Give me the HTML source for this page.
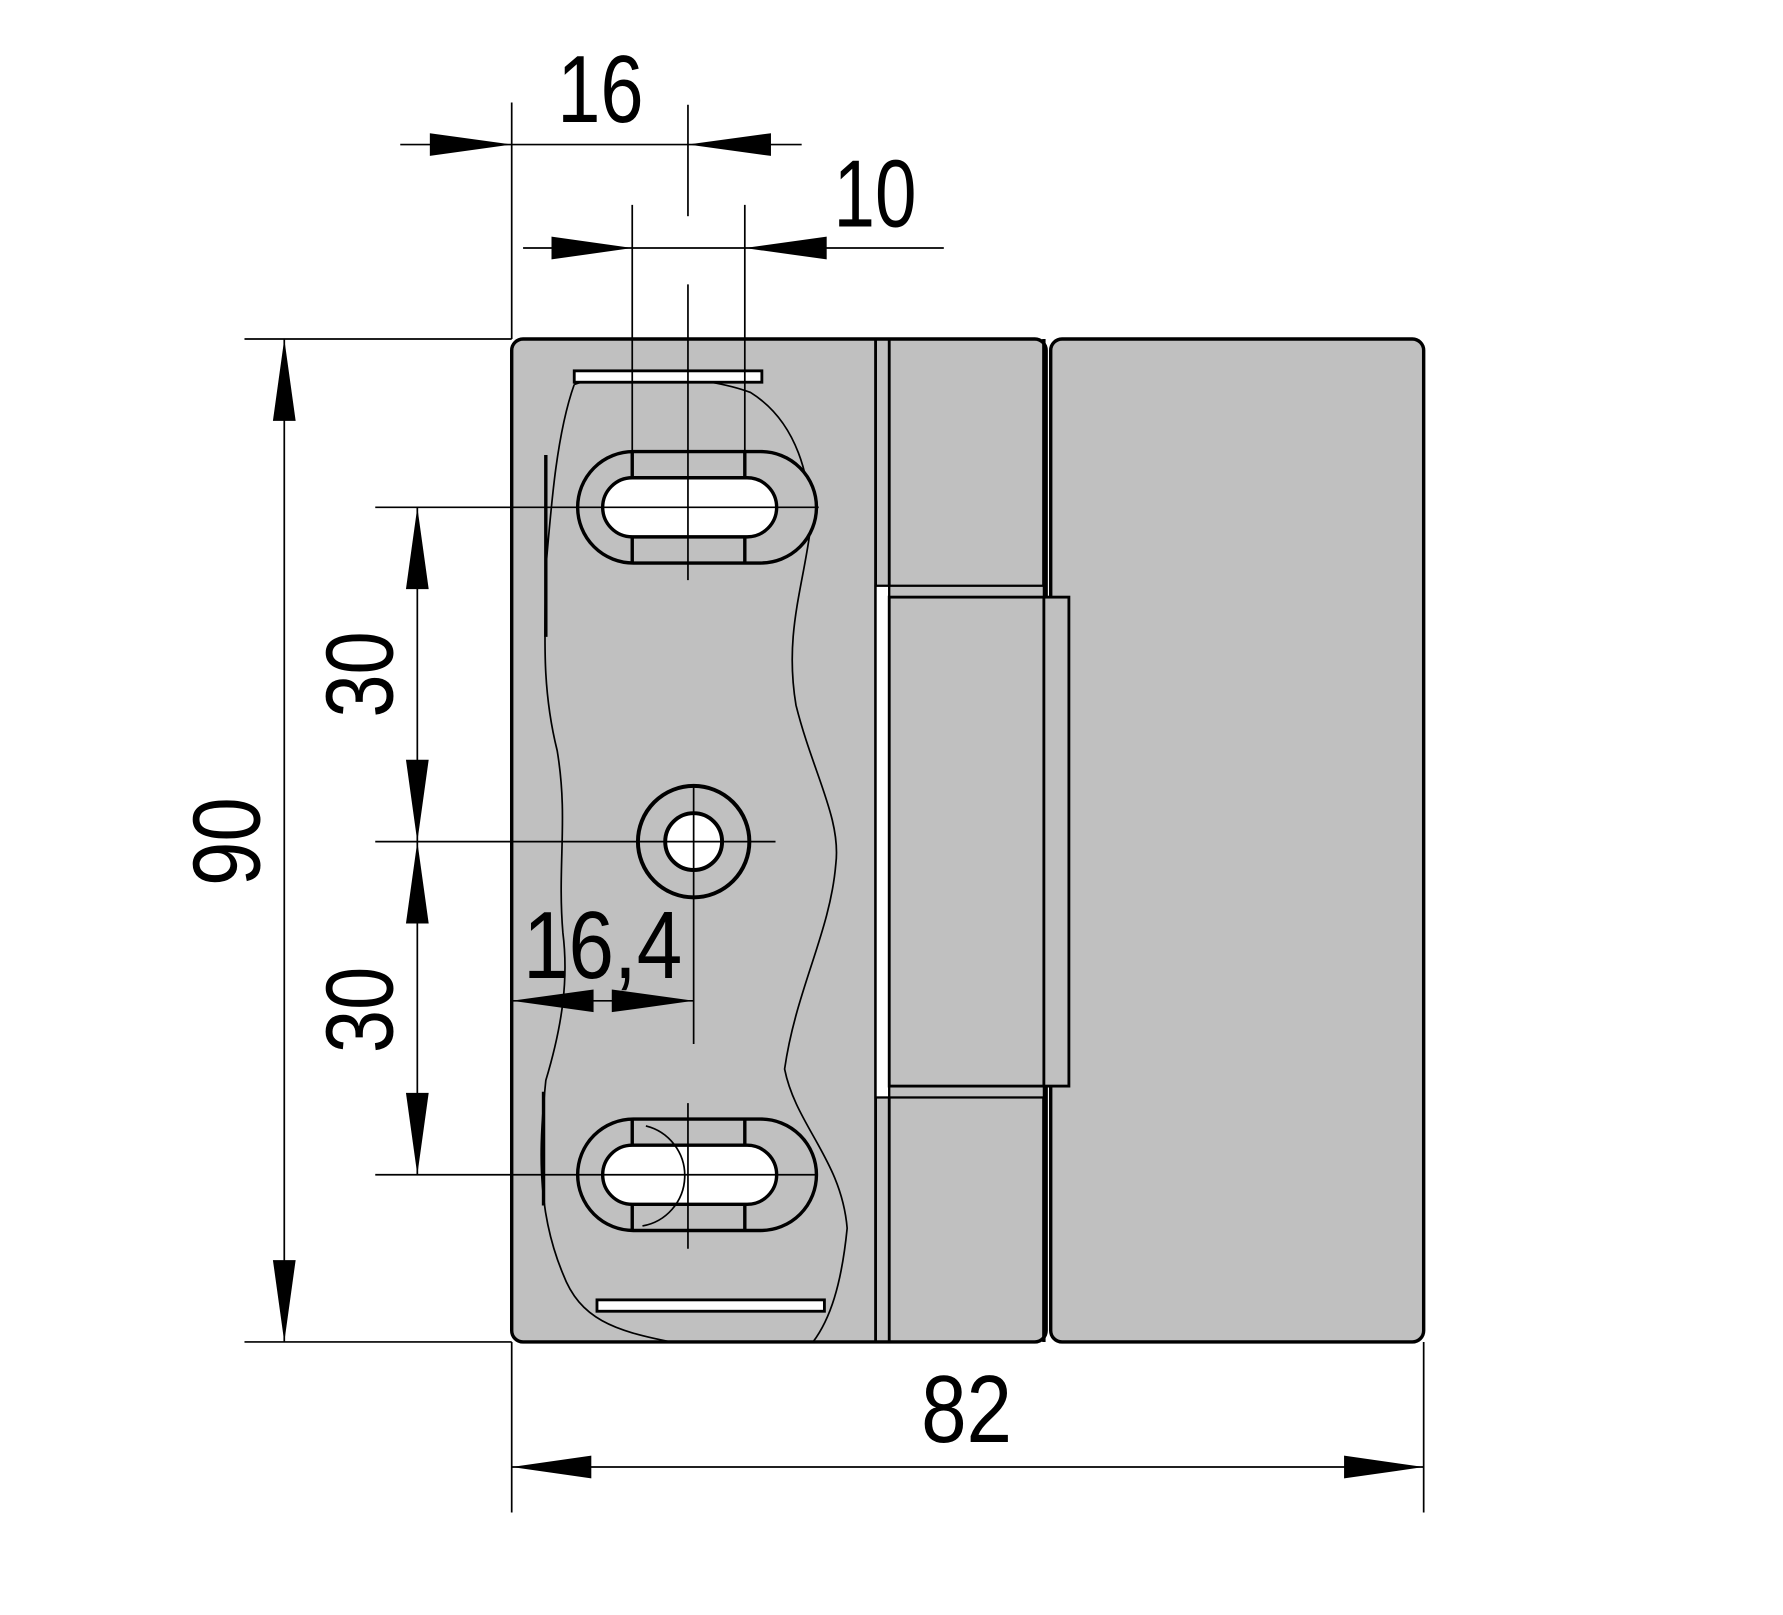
<!DOCTYPE html>
<html><head><style>html,body{margin:0;padding:0;background:#fff}svg{display:block}</style></head>
<body>
<svg width="1783" height="1615" viewBox="0 0 1568 1420" xmlns="http://www.w3.org/2000/svg">
<rect width="1568" height="1420" fill="#fff"/>
<g stroke="#000" fill="none">
<rect x="450" y="298" width="470" height="882" rx="10" fill="#c0c0c0" stroke-width="3"/>
<rect x="924" y="298" width="328" height="882" rx="10" fill="#c0c0c0" stroke-width="3"/>
<line x1="770" y1="298" x2="770" y2="1180" stroke-width="2.5"/>
<line x1="782" y1="298" x2="782" y2="1180" stroke-width="2.5"/>
<line x1="918" y1="298" x2="918" y2="1180" stroke-width="3"/>
<rect x="770" y="515" width="12" height="450" fill="#fff" stroke-width="2"/>
<rect x="782" y="515" width="136" height="450" fill="#c0c0c0" stroke-width="2"/>
<rect x="782" y="525" width="158" height="430" fill="#c0c0c0" stroke-width="2.5"/>
<line x1="918" y1="525" x2="918" y2="955" stroke-width="2.5"/>
<path d="M505 338 C540 325 620 330 660 345 C700 370 715 420 712 470 C705 520 690 560 700 620 C715 680 740 720 735 760 C730 820 700 870 690 940 C700 990 740 1020 745 1080 C740 1130 730 1160 715 1180 M590 1180 C540 1170 510 1160 495 1120 C470 1060 475 1000 480 950 C495 900 500 860 495 820 C490 760 500 720 490 660 C475 600 480 550 480 500 C485 440 490 380 505 338" stroke-width="1.5"/>
<path d="M480 400 L480 560 M478 960 L478 1060" stroke-width="3"/>
<rect x="505" y="326" width="165" height="10" fill="#fff" stroke-width="2.5"/>
<rect x="525" y="1143" width="200" height="10" fill="#fff" stroke-width="2.5"/>
<g stroke-width="3">
<rect x="508" y="397" width="210" height="98" rx="49" fill="#c0c0c0"/>
<rect x="530" y="420" width="153" height="52" rx="26" fill="#fff"/>
<line x1="556" y1="397" x2="556" y2="420"/><line x1="655" y1="397" x2="655" y2="420"/>
<line x1="556" y1="472" x2="556" y2="495"/><line x1="655" y1="472" x2="655" y2="495"/>
<rect x="508" y="984" width="210" height="98" rx="49" fill="#c0c0c0"/>
<rect x="530" y="1007" width="153" height="52" rx="26" fill="#fff"/>
<line x1="556" y1="984" x2="556" y2="1007"/><line x1="655" y1="984" x2="655" y2="1007"/>
<line x1="556" y1="1059" x2="556" y2="1082"/><line x1="655" y1="1059" x2="655" y2="1082"/>
</g>
<path d="M568 990 A45 45 0 0 1 565 1078" stroke-width="1.5"/>
<circle cx="610" cy="740" r="49" fill="#c0c0c0" stroke-width="3.5"/>
<circle cx="610" cy="740" r="25" fill="#fff" stroke-width="3.5"/>
<g stroke-width="1.5">
<line x1="450" y1="90" x2="450" y2="298"/>
<line x1="605" y1="92" x2="605" y2="190"/>
<line x1="605" y1="250" x2="605" y2="510"/>
<line x1="556" y1="180" x2="556" y2="397"/>
<line x1="655" y1="180" x2="655" y2="397"/>
<line x1="330" y1="446" x2="720" y2="446"/>
<line x1="330" y1="740" x2="682" y2="740"/>
<line x1="330" y1="1033" x2="718" y2="1033"/>
<line x1="605" y1="970" x2="605" y2="1098"/>
<line x1="610" y1="690" x2="610" y2="918"/>
<line x1="215" y1="298" x2="450" y2="298"/>
<line x1="215" y1="1180" x2="450" y2="1180"/>
<line x1="450" y1="1180" x2="450" y2="1330"/>
<line x1="1252" y1="1180" x2="1252" y2="1330"/>
<line x1="352" y1="127" x2="705" y2="127"/>
<line x1="460" y1="218" x2="830" y2="218"/>
<line x1="250" y1="298" x2="250" y2="1180"/>
<line x1="367" y1="446" x2="367" y2="1033"/>
<line x1="450" y1="880" x2="610" y2="880"/>
<line x1="450" y1="1290" x2="1252" y2="1290"/>
</g>
</g>
<g fill="#000">
<polygon points="450,127 378,117 378,137"/>
<polygon points="605,127 678,117 678,137"/>
<polygon points="556,218 485,208 485,228"/>
<polygon points="655,218 727,208 727,228"/>
<polygon points="250,298 240,370 260,370"/>
<polygon points="250,1180 240,1108 260,1108"/>
<polygon points="367,446 357,518 377,518"/>
<polygon points="367,740 357,668 377,668"/>
<polygon points="367,740 357,812 377,812"/>
<polygon points="367,1033 357,961 377,961"/>
<polygon points="450,880 522,870 522,890"/>
<polygon points="610,880 538,870 538,890"/>
<polygon points="450,1290 520,1280 520,1300"/>
<polygon points="1252,1290 1182,1280 1182,1300"/>
</g>
<g font-family="'Liberation Sans Narrow','Liberation Sans',sans-serif" font-size="84" fill="#000" lengthAdjust="spacingAndGlyphs">
<text x="490" y="107" textLength="76" lengthAdjust="spacingAndGlyphs">16</text>
<text x="733" y="199" textLength="73" lengthAdjust="spacingAndGlyphs">10</text>
<text x="460" y="860" textLength="140" lengthAdjust="spacingAndGlyphs">16,4</text>
<text x="810" y="1268" textLength="80" lengthAdjust="spacingAndGlyphs">82</text>
<text transform="translate(228,779) rotate(-90)" textLength="78" lengthAdjust="spacingAndGlyphs">90</text>
<text transform="translate(345,631) rotate(-90)" textLength="76" lengthAdjust="spacingAndGlyphs">30</text>
<text transform="translate(345,926) rotate(-90)" textLength="76" lengthAdjust="spacingAndGlyphs">30</text>
</g>
</svg>
</body></html>
